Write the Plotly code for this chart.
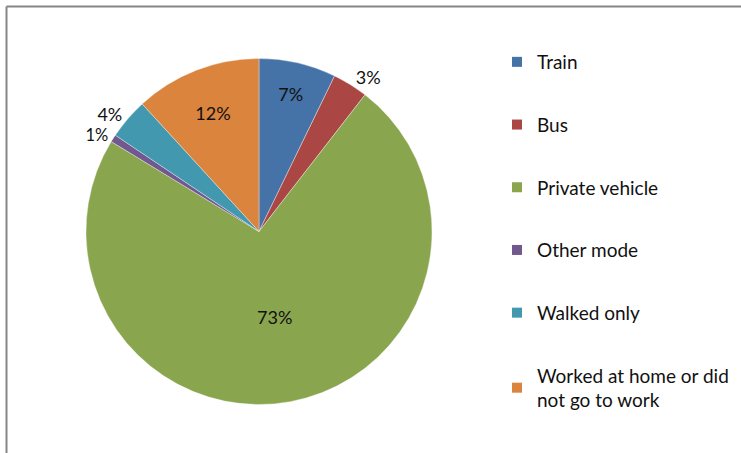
import plotly.graph_objects as go

labels = ['Train', 'Bus', 'Private vehicle', 'Other mode', 'Walked only',
          'Worked at home or did not go to work']
legend_names = ['Train', 'Bus', 'Private vehicle', 'Other mode', 'Walked only',
                'Worked at home or did<br>not go to work']
shares = [7.2, 3.3, 73.2, 0.7, 3.8, 11.8]
colors = ['#4572A7', '#AA4643', '#89A54E', '#71588F', '#4198AF', '#DB843D']
text_pos = ['inside', 'outside', 'inside', 'outside', 'outside', 'inside']
# the 1% label is set a touch smaller so plotly does not push "4%" away
label_sizes = [18, 18, 18, 16.5, 18, 18]

W, H = 741, 453
font_fam = 'Lato, Open Sans, sans-serif'
txt_c = '#111111'

fig = go.Figure()

fig.add_trace(go.Pie(
    labels=labels, values=shares,
    sort=False, direction='clockwise', rotation=0,
    marker=dict(colors=colors, line=dict(color='rgba(255,255,255,0.6)', width=0.6)),
    textinfo='percent', texttemplate='%{percent:.0%}',
    textposition=text_pos, insidetextorientation='horizontal',
    textfont=dict(family=font_fam, size=label_sizes, color=txt_c),
    domain=dict(x=[86 / W, 432 / W], y=[1 - 405 / H, 1 - 58 / H]),
    showlegend=False, hoverinfo='label+percent',
))

# legend entries: one dummy marker trace per category so spacing can be set
for name, c in zip(legend_names, colors):
    fig.add_trace(go.Scatter(
        x=[None], y=[None], mode='markers', name=name, legendgroup=name,
        marker=dict(symbol='square', size=10, color=c),
    ))

# chart frame (top and left edges visible)
fig.add_shape(type='line', xref='paper', yref='paper',
              x0=6.5 / W, x1=1.0, y0=1 - 6.5 / H, y1=1 - 6.5 / H,
              line=dict(color='#868686', width=2))
fig.add_shape(type='line', xref='paper', yref='paper',
              x0=6.5 / W, x1=6.5 / W, y0=1 - 6.5 / H, y1=0,
              line=dict(color='#868686', width=2))

fig.update_layout(
    width=W, height=H,
    margin=dict(l=0, r=0, t=0, b=0),
    paper_bgcolor='white', plot_bgcolor='white',
    font=dict(family=font_fam, size=19, color=txt_c),
    xaxis=dict(visible=False), yaxis=dict(visible=False),
    legend=dict(
        x=497 / W, y=1 - 43 / H, xanchor='left', yanchor='top',
        tracegroupgap=35, bgcolor='rgba(0,0,0,0)',
        font=dict(family=font_fam, size=19, color=txt_c),
    ),
)

# the page's default body margin would shift the fixed-size figure
fig.write_html('out.html', config=dict(displayModeBar=False),
               post_script="document.body.style.margin='0';")
